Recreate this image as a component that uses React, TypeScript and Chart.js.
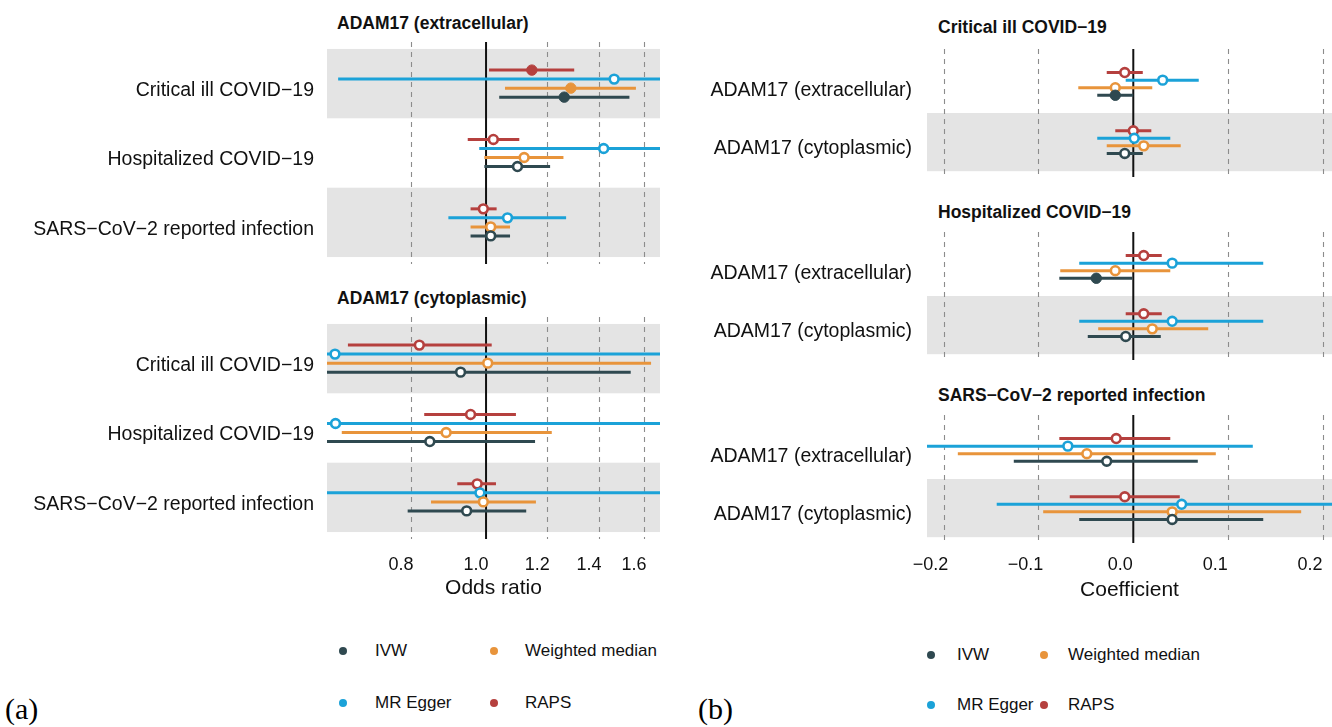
import React, { useEffect, useRef } from "react";
import { Chart, registerables } from "chart.js";

Chart.register(...registerables);

const FONT = '"Liberation Sans", Arial, Helvetica, sans-serif';
const SERIF = '"Liberation Serif", "Times New Roman", serif';
const TEXT = "#111111";
const BAND = "#e4e4e4";
const GRID = "#8c8c8c";

// Methods (legend order) and their colours
const methods = ["IVW", "Weighted median", "MR Egger", "RAPS"];
const methodColors = ["#2f4950", "#e8943b", "#1ba2d8", "#b5403e"];
// vertical dodge inside a row (IVW bottom ... RAPS top)
const dodge = [0.195, 0.065, -0.065, -0.195];

// ---------------- Panel (a): odds ratios ----------------
const outcomeRows = ["Critical ill COVID−19", "Hospitalized COVID−19", "SARS−CoV−2 reported infection"];
const orTicks = [0.8, 1.0, 1.2, 1.4, 1.6];
const orTickLabels = ["0.8", "1.0", "1.2", "1.4", "1.6"];

// each row: [estimate, lower, upper, filled(significant)]
const extIVW = [[1.262, 1.04, 1.532, 1], [1.098, 0.995, 1.21, 0], [1.014, 0.955, 1.074, 0]];
const extWM = [[1.287, 1.058, 1.562, 1], [1.12, 0.995, 1.259, 0], [1.014, 0.955, 1.074, 0]];
const extEgger = [[1.464, 0.644, 3.3, 0], [1.419, 0.98, 2.1, 0], [1.066, 0.894, 1.269, 0]];
const extRAPS = [[1.146, 1.009, 1.3, 1], [1.022, 0.947, 1.104, 0], [0.992, 0.955, 1.032, 0]];

const cytIVW = [[0.927, 0.55, 1.538, 0], [0.846, 0.58, 1.157, 0], [0.944, 0.792, 1.127, 0]];
const cytWM = [[1.005, 0.58, 1.634, 0], [0.888, 0.651, 1.216, 0], [0.992, 0.849, 1.16, 0]];
const cytEgger = [[0.638, 0.25, 2.6, 0], [0.639, 0.25, 2.6, 0], [0.982, 0.45, 2.2, 0]];
const cytRAPS = [[0.82, 0.663, 1.017, 0], [0.955, 0.832, 1.093, 0], [0.974, 0.918, 1.03, 0]];

// ---------------- Panel (b): coefficients ----------------
const exposureRows = ["ADAM17 (extracellular)", "ADAM17 (cytoplasmic)"];
const coefTicks = [-0.2, -0.1, 0, 0.1, 0.2];
const coefTickLabels = ["−0.2", "−0.1", "0.0", "0.1", "0.2"];

const critIVW = [[-0.019, -0.038, 0.0, 1], [-0.009, -0.028, 0.01, 0]];
const critWM = [[-0.019, -0.058, 0.02, 0], [0.011, -0.028, 0.05, 0]];
const critEgger = [[0.031, -0.008, 0.069, 0], [0.001, -0.038, 0.039, 0]];
const critRAPS = [[-0.009, -0.028, 0.01, 0], [0.0, -0.019, 0.019, 0]];

const hospIVW = [[-0.039, -0.078, -0.001, 1], [-0.008, -0.048, 0.029, 0]];
const hospWM = [[-0.019, -0.077, 0.039, 0], [0.02, -0.037, 0.079, 0]];
const hospEgger = [[0.041, -0.057, 0.137, 0], [0.041, -0.057, 0.137, 0]];
const hospRAPS = [[0.011, -0.008, 0.03, 0], [0.011, -0.008, 0.03, 0]];

const sarsIVW = [[-0.028, -0.126, 0.068, 0], [0.041, -0.057, 0.137, 0]];
const sarsWM = [[-0.049, -0.185, 0.087, 0], [0.041, -0.095, 0.177, 0]];
const sarsEgger = [[-0.069, -0.26, 0.126, 0], [0.051, -0.144, 0.25, 0]];
const sarsRAPS = [[-0.018, -0.078, 0.039, 0], [-0.009, -0.067, 0.049, 0]];

type ForestProps = {
  left: number;
  top: number;
  width: number;
  height: number;
  rows: string[];
  series: number[][][];
  bands: number[];
  xType: "linear" | "logarithmic";
  xMin: number;
  xMax: number;
  ticks: number[];
  tickLabels: string[];
  nullValue: number;
  yWidth: number;
  yPad: number;
  labelOffsetX: number;
  axis?: { height: number; pad: number; title: string; titlePad: number };
};

function Forest(p: ForestProps) {
  const ref = useRef<HTMLCanvasElement>(null);
  useEffect(() => {
    if (!ref.current) return;
    const bgPlugin = {
      id: "forestBg",
      beforeDatasetsDraw(chart: any) {
        const { ctx, chartArea: a, scales } = chart;
        const x = scales.x;
        const y = scales.y;
        ctx.save();
        // shaded rows
        ctx.fillStyle = BAND;
        p.bands.forEach((r) => {
          const t = y.getPixelForValue(r - 0.5);
          const b = y.getPixelForValue(r + 0.5);
          ctx.fillRect(a.left, t, a.right - a.left, b - t);
        });
        // dashed grid lines
        ctx.strokeStyle = GRID;
        ctx.lineWidth = 1.1;
        ctx.setLineDash([5, 5]);
        p.ticks.forEach((v) => {
          if (v === p.nullValue) return;
          const px = Math.round(x.getPixelForValue(v)) + 0.5;
          ctx.beginPath();
          ctx.moveTo(px, a.top);
          ctx.lineTo(px, a.bottom);
          ctx.stroke();
        });
        // reference line
        ctx.setLineDash([]);
        ctx.strokeStyle = "#111";
        ctx.lineWidth = 2;
        const zx = x.getPixelForValue(p.nullValue);
        ctx.beginPath();
        ctx.moveTo(zx, a.top);
        ctx.lineTo(zx, a.bottom);
        ctx.stroke();
        // confidence intervals
        ctx.beginPath();
        ctx.rect(a.left, a.top, a.right - a.left, a.bottom - a.top);
        ctx.clip();
        ctx.lineWidth = 3;
        chart.data.datasets.forEach((ds: any, i: number) => {
          ctx.strokeStyle = methodColors[i];
          ds.data.forEach((d: any) => {
            const py = y.getPixelForValue(d.y);
            ctx.beginPath();
            ctx.moveTo(x.getPixelForValue(d.lo), py);
            ctx.lineTo(x.getPixelForValue(d.hi), py);
            ctx.stroke();
          });
        });
        ctx.restore();
      },
    };

    const datasets = p.series.map((arr, m) => ({
      type: "scatter" as const,
      label: methods[m],
      data: arr.map((d, r) => ({ x: d[0], y: r + 1 + dodge[m], lo: d[1], hi: d[2], f: d[3] })),
      clip: false as any,
      pointBackgroundColor: (c: any) => (c.raw && c.raw.f ? methodColors[m] : "#ffffff"),
      pointBorderColor: methodColors[m],
      pointBorderWidth: (c: any) => (c.raw && c.raw.f ? 1 : 2.6),
      pointRadius: (c: any) => (c.raw && c.raw.f ? 5.2 : 4.4),
      pointHoverRadius: 0,
    }));

    const ax = p.axis;
    const chart = new Chart(ref.current, {
      type: "scatter",
      data: { datasets },
      plugins: [bgPlugin],
      options: {
        animation: false,
        responsive: false,
        devicePixelRatio: 1,
        events: [],
        layout: { padding: 0, autoPadding: false } as any,
        plugins: { legend: { display: false }, tooltip: { enabled: false }, title: { display: false } },
        scales: {
          x: {
            type: p.xType,
            min: p.xMin,
            max: p.xMax,
            bounds: "data",
            display: !!ax,
            grid: { display: false, drawTicks: false },
            border: { display: false },
            afterBuildTicks: (s: any) => {
              s.ticks = p.ticks.map((v) => ({ value: v }));
              s.min = p.xMin;
              s.max = p.xMax;
            },
            afterFit: (s: any) => {
              if (ax) s.height = ax.height;
              s.paddingLeft = 0;
              s.paddingRight = 0;
              s.paddingTop = 0;
              s.paddingBottom = 0;
            },
            ticks: {
              autoSkip: false,
              maxRotation: 0,
              minRotation: 0,
              padding: ax ? ax.pad : 0,
              labelOffset: p.labelOffsetX,
              color: TEXT,
              font: { family: FONT, size: 18 },
              callback: (_v: any, i: number) => p.tickLabels[i],
            },
            title: {
              display: !!ax,
              text: ax ? ax.title : "",
              color: TEXT,
              font: { family: FONT, size: 21 },
              padding: { top: 0, bottom: ax ? ax.titlePad : 0 },
            },
          } as any,
          y: {
            type: "linear",
            min: 0.4,
            max: p.rows.length + 0.6,
            reverse: true,
            grid: { display: false, drawTicks: false },
            border: { display: false },
            afterBuildTicks: (s: any) => {
              s.ticks = p.rows.map((_r, i) => ({ value: i + 1 }));
            },
            afterFit: (s: any) => {
              s.width = p.yWidth;
              s.paddingTop = 0;
              s.paddingBottom = 0;
              s.paddingLeft = 0;
              s.paddingRight = 0;
            },
            ticks: {
              autoSkip: false,
              padding: p.yPad,
              labelOffset: 7,
              color: TEXT,
              font: { family: FONT, size: 19.5 },
              callback: (v: any) => p.rows[Math.round(Number(v)) - 1],
            },
          } as any,
        },
      },
    });
    return () => chart.destroy();
  }, []);
  return (
    <canvas
      ref={ref}
      width={p.width}
      height={p.height}
      style={{ position: "absolute", left: p.left, top: p.top, width: p.width, height: p.height }}
    />
  );
}

function PanelTitle({ x, baseline, text }: { x: number; baseline: number; text: string }) {
  return (
    <div
      style={{
        position: "absolute",
        left: x,
        top: baseline - 15,
        fontFamily: FONT,
        fontWeight: 700,
        fontSize: "17.5px",
        lineHeight: "17.5px",
        color: TEXT,
        whiteSpace: "nowrap",
      }}
    >
      {text}
    </div>
  );
}

function LegendItem({ dotX, textX, cy, color, label }: { dotX: number; textX: number; cy: number; color: string; label: string }) {
  return (
    <>
      <div
        style={{
          position: "absolute",
          left: dotX - 4,
          top: cy - 4,
          width: 8,
          height: 8,
          borderRadius: 4,
          background: color,
        }}
      />
      <div
        style={{
          position: "absolute",
          left: textX,
          top: cy - 10,
          height: 20,
          lineHeight: "20px",
          fontFamily: FONT,
          fontSize: "17px",
          color: TEXT,
          whiteSpace: "nowrap",
        }}
      >
        {label}
      </div>
    </>
  );
}

function Legend({ x1, x2, t1, t2, y1, y2 }: { x1: number; x2: number; t1: number; t2: number; y1: number; y2: number }) {
  return (
    <>
      <LegendItem dotX={x1} textX={t1} cy={y1} color={methodColors[0]} label={methods[0]} />
      <LegendItem dotX={x2} textX={t2} cy={y1} color={methodColors[1]} label={methods[1]} />
      <LegendItem dotX={x1} textX={t1} cy={y2} color={methodColors[2]} label={methods[2]} />
      <LegendItem dotX={x2} textX={t2} cy={y2} color={methodColors[3]} label={methods[3]} />
    </>
  );
}

export default function App() {
  const aCommon = {
    left: 0,
    width: 660,
    rows: outcomeRows,
    bands: [1, 3],
    xType: "logarithmic" as const,
    xMin: 0.623,
    xMax: 1.678,
    ticks: orTicks,
    tickLabels: orTickLabels,
    nullValue: 1.0,
    yWidth: 327,
    yPad: 13,
    labelOffsetX: -10,
  };
  const bCommon = {
    left: 660,
    width: 672,
    rows: exposureRows,
    bands: [2],
    xType: "linear" as const,
    xMin: -0.2175,
    xMax: 0.2095,
    ticks: coefTicks,
    tickLabels: coefTickLabels,
    nullValue: 0,
    yWidth: 267,
    yPad: 15,
    labelOffsetX: -13,
  };
  return (
    <div
      style={{
        position: "absolute",
        left: 0,
        top: 0,
        width: 1332,
        height: 727,
        overflow: "hidden",
        background: "#ffffff",
      }}
    >
      {/* Panel (a) */}
      <PanelTitle x={337} baseline={30} text="ADAM17 (extracellular)" />
      <Forest {...aCommon} top={42} height={222} series={[extIVW, extWM, extEgger, extRAPS]} />
      <PanelTitle x={337} baseline={305} text="ADAM17 (cytoplasmic)" />
      <Forest
        {...aCommon}
        top={317}
        height={307}
        series={[cytIVW, cytWM, cytEgger, cytRAPS]}
        axis={{ height: 85, pad: 15, title: "Odds ratio", titlePad: 23 }}
      />
      <Legend x1={343} x2={494} t1={375} t2={525} y1={651} y2={703} />
      <div style={{ position: "absolute", left: 5, top: 694, fontFamily: SERIF, fontSize: "30px", lineHeight: "30px", color: "#000" }}>
        (a)
      </div>

      {/* Panel (b) */}
      <PanelTitle x={938} baseline={34} text="Critical ill COVID−19" />
      <Forest {...bCommon} top={49} height={128} series={[critIVW, critWM, critEgger, critRAPS]} />
      <PanelTitle x={938} baseline={219} text="Hospitalized COVID−19" />
      <Forest {...bCommon} top={232} height={128} series={[hospIVW, hospWM, hospEgger, hospRAPS]} />
      <PanelTitle x={938} baseline={402} text="SARS−CoV−2 reported infection" />
      <Forest
        {...bCommon}
        top={415}
        height={213}
        series={[sarsIVW, sarsWM, sarsEgger, sarsRAPS]}
        axis={{ height: 85, pad: 11, title: "Coefficient", titlePad: 25 }}
      />
      <Legend x1={931} x2={1044} t1={957} t2={1068} y1={655} y2={705} />
      <div style={{ position: "absolute", left: 698, top: 694, fontFamily: SERIF, fontSize: "30px", lineHeight: "30px", color: "#000" }}>
        (b)
      </div>
    </div>
  );
}
